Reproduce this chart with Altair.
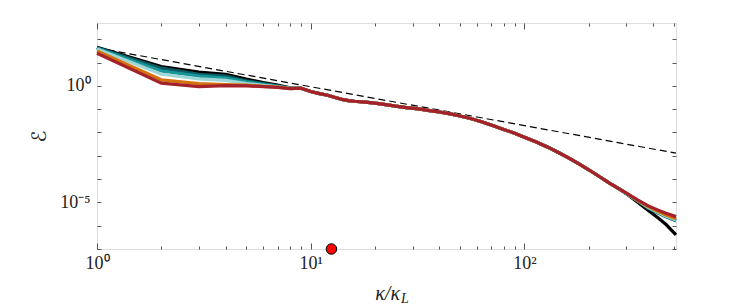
import altair as alt
import pandas as pd

# ---- data (log10 of the spectrum value) ----
kappa_head = [1, 2, 3, 4, 5, 6, 7, 8]
kappa_mid = [9, 10, 11, 12, 13, 14, 15, 16, 18, 20, 22, 25, 28, 32, 36, 40, 45, 50,
             56, 63, 71, 80, 90, 100, 113, 128, 145, 160, 180, 200, 225, 250, 280]
kappa_tail = [300, 340, 380, 420, 460, 512]

series_names = ["s1", "s2", "s3", "s4", "s5", "s6"]
series_colors = ["#000000", "#0a5c63", "#18969a", "#9fd6d6", "#d4730c", "#a3222b"]

head_s1 = [1.66, 0.83, 0.59, 0.50, 0.29, 0.14, 0.04, -0.08]
head_s2 = [1.64, 0.76, 0.50, 0.42, 0.22, 0.10, 0.00, -0.09]
head_s3 = [1.62, 0.64, 0.42, 0.34, 0.17, 0.06, -0.02, -0.10]
head_s4 = [1.58, 0.50, 0.30, 0.24, 0.10, 0.02, -0.04, -0.11]
head_s5 = [1.50, 0.26, 0.10, 0.06, 0.03, -0.02, -0.05, -0.12]
head_s6 = [1.40, 0.12, -0.03, 0.01, 0.00, -0.03, -0.06, -0.12]

mid_all = [-0.10, -0.24, -0.33, -0.40, -0.50, -0.58, -0.63, -0.66, -0.70, -0.74, -0.79,
           -0.87, -0.93, -0.99, -1.06, -1.12, -1.20, -1.29, -1.40, -1.54, -1.70, -1.87,
           -2.03, -2.20, -2.40, -2.62, -2.87, -3.08, -3.35, -3.60, -3.90, -4.17, -4.44]

tail_s1 = [-4.63, -5.00, -5.35, -5.65, -5.95, -6.39]
tail_s2 = [-4.62, -4.95, -5.25, -5.45, -5.62, -5.79]
tail_s3 = [-4.62, -4.94, -5.23, -5.44, -5.61, -5.78]
tail_s4 = [-4.61, -4.93, -5.21, -5.41, -5.58, -5.75]
tail_s5 = [-4.60, -4.92, -5.18, -5.38, -5.54, -5.70]
tail_s6 = [-4.60, -4.90, -5.15, -5.32, -5.47, -5.61]

heads = [head_s1, head_s2, head_s3, head_s4, head_s5, head_s6]
tails = [tail_s1, tail_s2, tail_s3, tail_s4, tail_s5, tail_s6]

ref_kappa = [1, 512]
ref_E = [42.7, 0.0013]

dot_kappa = [12.5]
dot_E = [1e-7]

x_major = [1, 10, 100]
x_minor = [2, 3, 4, 5, 6, 7, 8, 9, 20, 30, 40, 50, 60, 70, 80, 90, 200, 300, 400, 500]
y_ticks = [1e-7, 1e-6, 1e-5, 1e-4, 1e-3, 1e-2, 1e-1, 1, 10, 100]

# ---- tables ----
rows = []
for name, h, t in zip(series_names, heads, tails):
    ks = kappa_head + kappa_mid + kappa_tail
    vs = h + mid_all + t
    for k, v in zip(ks, vs):
        rows.append({"k": k, "E": 10 ** v, "s": name})
df = pd.DataFrame(rows)
df_ref = pd.DataFrame({"k": ref_kappa, "E": ref_E})
df_dot = pd.DataFrame({"k": dot_kappa, "E": dot_E})

W, H = 579, 226
FONT = "Liberation Serif"
GRAY = "#555555"

xscale = alt.Scale(type="log", domain=[1, 512], nice=False)
yscale = alt.Scale(type="log", domain=[1e-7, 500], nice=False)

common = dict(domain=False, grid=False, tickColor=GRAY, labelFont=FONT,
              labelColor="#222222", labelFontSize=18, labelOverlap=False,
              labelFlush=False, labelBound=False)

ax_bottom_major = alt.Axis(orient="bottom", values=x_major, tickSize=6, offset=-6,
                           labelPadding=5, title=None,
                           labelExpr="datum.value == 1 ? '10⁰' : (datum.value == 10 ? '10¹' : '10²')",
                           **common)
ax_bottom_minor = alt.Axis(orient="bottom", values=x_minor, tickSize=3, offset=-3,
                           labels=False, title=None, **common)
ax_top_major = alt.Axis(orient="top", values=x_major, tickSize=6, offset=-6,
                        labels=False, title=None, **common)
ax_top_minor = alt.Axis(orient="top", values=x_minor, tickSize=3, offset=-3,
                        labels=False, title=None, **common)
ax_left = alt.Axis(orient="left", values=y_ticks, tickSize=4, offset=-4, labelPadding=7,
                   labelExpr="datum.value == 1 ? '10⁰' : (abs(log(datum.value)/LN10 + 5) < 0.01 ? '10⁻⁵' : '')",
                   title="ℰ", titleFont="DejaVu Sans", titleFontSize=20, titleFontWeight="normal",
                   titleColor="#222222", titleX=-62, titleY=H / 2, titleAngle=270,
                   titleAlign="center", titleBaseline="middle", **common)
ax_right = alt.Axis(orient="right", values=y_ticks, tickSize=4, offset=-4,
                    labels=False, title=None, **common)

ghost = alt.Chart(df_ref).mark_line(opacity=0).encode(
    x=alt.X("k:Q", scale=xscale, axis=ax_top_minor),
    y=alt.Y("E:Q", scale=yscale, axis=ax_right),
)

dashed = alt.Chart(df_ref).mark_line(color="black", strokeDash=[7, 4], strokeWidth=1.2).encode(
    x=alt.X("k:Q", scale=xscale, axis=ax_bottom_major),
    y=alt.Y("E:Q", scale=yscale, axis=ax_left),
)

lines = alt.Chart(df).mark_line(strokeWidth=3.2).encode(
    x=alt.X("k:Q", scale=xscale, axis=ax_bottom_minor),
    y=alt.Y("E:Q", scale=yscale, axis=None),
    color=alt.Color("s:N", scale=alt.Scale(domain=series_names, range=series_colors), legend=None),
    order=alt.Order("k:Q"),
)

dot = alt.Chart(df_dot).mark_circle(color="#ff0000", opacity=1, size=110, stroke="black",
                                    strokeWidth=1).encode(
    x=alt.X("k:Q", scale=xscale, axis=ax_top_major),
    y=alt.Y("E:Q", scale=yscale, axis=None),
)

title_main = alt.Chart(pd.DataFrame({"t": ["κ/κ"]})).mark_text(
    font=FONT, fontSize=20, fontStyle="italic", align="right", baseline="middle", color="#222222"
).encode(x=alt.value(303), y=alt.value(271), text="t:N")
title_sub = alt.Chart(pd.DataFrame({"t": ["L"]})).mark_text(
    font=FONT, fontSize=14, fontStyle="italic", align="left", baseline="middle", color="#222222"
).encode(x=alt.value(304), y=alt.value(276), text="t:N")

chart = alt.layer(ghost, dashed, lines, dot, title_main, title_sub).resolve_axis(
    x="independent", y="independent"
).properties(
    width=W, height=H, autosize="none",
    padding={"left": 89, "top": 15, "right": 63, "bottom": 58},
).configure_view(stroke=GRAY, strokeWidth=1).configure(background="white")

chart.save("out.html", embed_options={"renderer": "svg", "actions": False})
